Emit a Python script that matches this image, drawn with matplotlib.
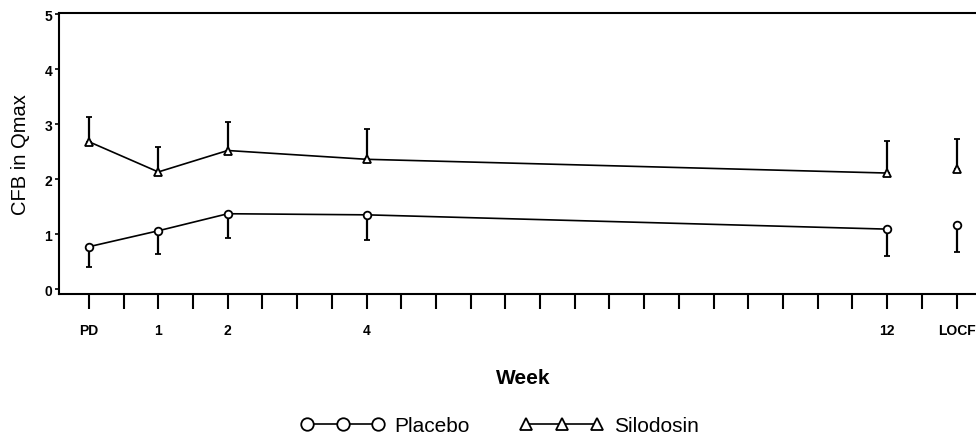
import matplotlib
matplotlib.use("Agg")
import numpy as np
import matplotlib.pyplot as plt
from matplotlib.lines import Line2D

plt.rcParams['font.family'] = ['Liberation Sans', 'DejaVu Sans']

# visits and where they sit on the (half-week) tick grid
visit_labels = ["PD", "1", "2", "4", "12", "LOCF"]
visit_ticks = [0, 2, 4, 8, 23, 25]

# mean change from baseline in Qmax, with one-sided error bars
silodosin_mean = [2.68, 2.13, 2.52, 2.36, 2.11, 2.18]
silodosin_upper = [3.13, 2.58, 3.03, 2.92, 2.69, 2.73]
placebo_mean = [0.77, 1.06, 1.37, 1.35, 1.09, 1.16]
placebo_lower = [0.40, 0.64, 0.93, 0.89, 0.60, 0.67]

x = np.array(visit_ticks)
sil = np.array(silodosin_mean)
pla = np.array(placebo_mean)
sil_err = np.array(silodosin_upper) - sil
pla_err = pla - np.array(placebo_lower)

fig = plt.figure(figsize=(9.76, 4.39), dpi=100)
ax = fig.add_axes([0.0605, 0.328, 0.964, 0.640])

# error bars (silodosin up, placebo down)
ax.errorbar(x, sil, yerr=[np.zeros_like(sil), sil_err], fmt='none',
            ecolor='black', elinewidth=1.6, capsize=2.5, capthick=1.3)
ax.errorbar(x, pla, yerr=[pla_err, np.zeros_like(pla)], fmt='none',
            ecolor='black', elinewidth=1.6, capsize=2.5, capthick=1.3)

# connected visits, LOCF stands alone
mk = dict(ms=5.5, mfc='white', mec='black', mew=1.3)
ax.plot(x[:5], sil[:5], color='black', lw=1.2, marker='^', **mk)
ax.plot(x[5:], sil[5:], ls='none', marker='^', **mk)
ax.plot(x[:5], pla[:5], color='black', lw=1.2, marker='o', **mk)
ax.plot(x[5:], pla[5:], ls='none', marker='o', **mk)

ax.set_xlim(-0.86, 26.25)
ax.set_ylim(-0.09, 5.02)

all_ticks = list(range(0, 27))
tick_text = [""] * len(all_ticks)
for lab, pos in zip(visit_labels, visit_ticks):
    tick_text[pos] = lab
ax.set_xticks(all_ticks)
ax.set_xticklabels(tick_text, fontsize=10, fontweight='bold')
ax.tick_params(axis='x', direction='out', length=11, width=1.5, pad=10)

ax.set_yticks(range(0, 6))
ax.set_yticklabels([str(v) for v in range(0, 6)], fontsize=10, fontweight='bold')
ax.tick_params(axis='y', direction='out', length=3, width=1.2, pad=2)

for side in ['left', 'bottom', 'top', 'right']:
    ax.spines[side].set_linewidth(1.5)

ax.set_ylabel("CFB in Qmax", fontsize=14.5)
ax.yaxis.set_label_coords(-0.031, 0.5)

fig.text(0.536, 0.137, "Week", ha='center', va='center', fontsize=15,
         fontweight='bold')

handles = [
    Line2D([], [], color='black', lw=1.2, marker='o', ms=9, mfc='white',
           mec='black', mew=1.3, label='Placebo'),
    Line2D([], [], color='black', lw=1.2, marker='^', ms=9, mfc='white',
           mec='black', mew=1.3, label='Silodosin'),
]
fig.legend(handles=handles, loc='center', bbox_to_anchor=(0.512, 0.028),
           ncol=2, numpoints=3, frameon=False, fontsize=15,
           handlelength=4.0, handletextpad=0.5, columnspacing=2.4)

fig.savefig("out.png", dpi=100)
